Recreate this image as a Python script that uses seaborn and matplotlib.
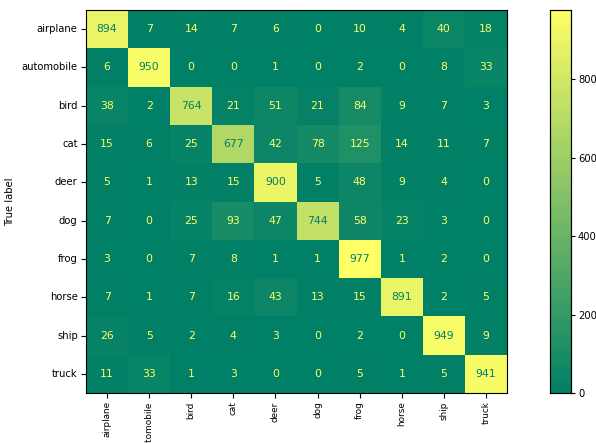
import numpy as np
import pandas as pd
import matplotlib
matplotlib.use("Agg")
import matplotlib.pyplot as plt
import seaborn as sns

classes = ["airplane", "automobile", "bird", "cat", "deer",
           "dog", "frog", "horse", "ship", "truck"]

row_airplane   = [894, 7, 14, 7, 6, 0, 10, 4, 40, 18]
row_automobile = [6, 950, 0, 0, 1, 0, 2, 0, 8, 33]
row_bird       = [38, 2, 764, 21, 51, 21, 84, 9, 7, 3]
row_cat        = [15, 6, 25, 677, 42, 78, 125, 14, 11, 7]
row_deer       = [5, 1, 13, 15, 900, 5, 48, 9, 4, 0]
row_dog        = [7, 0, 25, 93, 47, 744, 58, 23, 3, 0]
row_frog       = [3, 0, 7, 8, 1, 1, 977, 1, 2, 0]
row_horse      = [7, 1, 7, 16, 43, 13, 15, 891, 2, 5]
row_ship       = [26, 5, 2, 4, 3, 0, 2, 0, 949, 9]
row_truck      = [11, 33, 1, 3, 0, 0, 5, 1, 5, 941]

cm = pd.DataFrame(
    [row_airplane, row_automobile, row_bird, row_cat, row_deer,
     row_dog, row_frog, row_horse, row_ship, row_truck],
    index=classes, columns=classes,
)

W, H = 596, 443
fig = plt.figure(figsize=(W / 100, H / 100), dpi=100)
ax = fig.add_axes([86 / W, 1 - 393 / H, (507 - 86) / W, (393 - 10) / H])
cax = fig.add_axes([550 / W, 1 - 393 / H, (571 - 550) / W, (393 - 10) / H])

cmap = plt.get_cmap("summer")
vmin, vmax = cm.values.min(), cm.values.max()

sns.heatmap(cm, ax=ax, cbar_ax=cax, cmap=cmap, vmin=vmin, vmax=vmax,
            annot=True, fmt="d", annot_kws={"fontsize": 7.8}, square=False)

# Light text on dark cells, dark text on bright cells
thresh = (vmax + vmin) / 2.0
for txt, val in zip(ax.texts, cm.values.ravel()):
    txt.set_color(cmap(1.0) if val < thresh else cmap(0.0))

for s in ax.spines.values():
    s.set_visible(True)
    s.set_color("black")
    s.set_linewidth(0.8)

ax.set_xticklabels(classes, rotation=90, fontsize=6.4)
ax.set_yticklabels(classes, rotation=0, fontsize=7.2)
ax.tick_params(axis="both", length=3.5, width=0.8, pad=2.5)
ax.set_ylabel("True label", fontsize=7.2)
ax.yaxis.set_label_coords(-0.168, 0.5)
ax.set_xlabel("")

cax.tick_params(labelsize=7.2, length=3, width=0.8, pad=2)
cax.set_yticks([0, 200, 400, 600, 800])
for s in cax.spines.values():
    s.set_visible(True)
    s.set_linewidth(0.8)

fig.savefig("out.png", dpi=100)
